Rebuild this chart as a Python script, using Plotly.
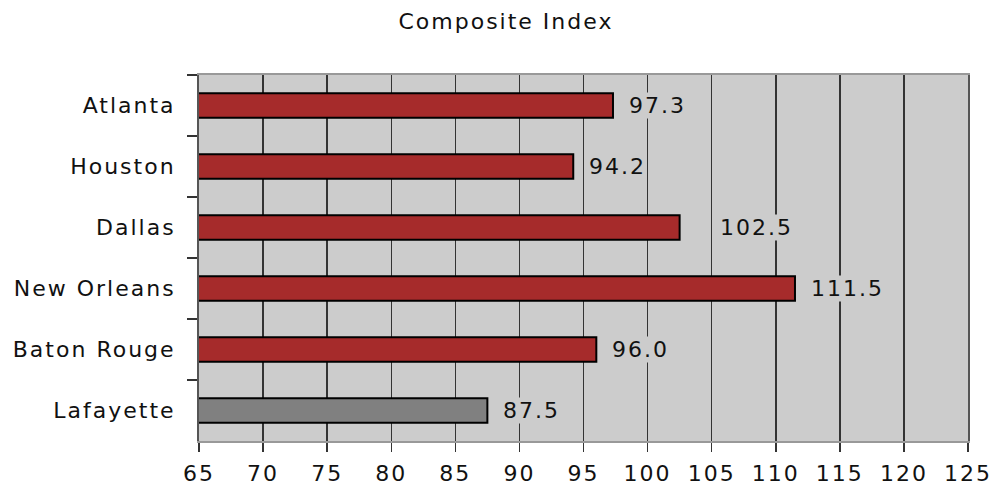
import plotly.graph_objects as go

cities = ["Atlanta", "Houston", "Dallas", "New Orleans", "Baton Rouge", "Lafayette"]
values = [97.3, 94.2, 102.5, 111.5, 96.0, 87.5]
x_ticks = list(range(65, 126, 5))

RED = "#A62B2B"
GRAY = "#808080"
colors = [GRAY if c == "Lafayette" else RED for c in cities]
FONT = "DejaVu Sans, sans-serif"
label_shift = {"Dallas": 39}

fig = go.Figure()
fig.add_trace(go.Bar(
    y=cities, x=values, orientation="h",
    marker=dict(color=colors, line=dict(color="#000000", width=2)),
    width=0.4, base=0, hoverinfo="skip",
))

for c, v in zip(cities, values):
    fig.add_annotation(x=v, y=c, text=f"{v:.1f}", showarrow=False,
                       xanchor="left", xshift=label_shift.get(c, 15),
                       font=dict(family=FONT, size=22, color="#111111"),
                       bgcolor="#cccccc", borderpad=0)

fig.update_layout(
    width=996, height=485,
    margin=dict(l=199, r=28, t=75, b=44, autoexpand=False),
    paper_bgcolor="white", plot_bgcolor="#cccccc",
    title=dict(text="Composite Index", x=0.508, xanchor="center", y=0.957, yanchor="middle",
               font=dict(family=FONT, size=22, color="#111111")),
    showlegend=False,
)
fig.update_xaxes(range=[65, 125], tickvals=x_ticks, ticktext=[str(t) for t in x_ticks],
                 showgrid=True, gridcolor="#333333", gridwidth=1.5,
                 ticks="outside", ticklen=9, tickcolor="#333333", tickwidth=1.5,
                 ticklabelstandoff=3,
                 showline=True, linecolor="#999999", linewidth=2, mirror=True,
                 tickfont=dict(family=FONT, size=22, color="#111111"),
                 zeroline=False, fixedrange=True)
fig.update_yaxes(categoryorder="array", categoryarray=cities, autorange="reversed",
                 tickson="boundaries", ticks="outside", ticklen=10, tickcolor="#333333", tickwidth=1.5,
                 ticklabelstandoff=17,
                 showline=True, linecolor="#555555", linewidth=2, mirror=True,
                 showgrid=False,
                 tickfont=dict(family=FONT, size=22, color="#111111"),
                 fixedrange=True)

fig.write_html("out.html", config={"displayModeBar": False, "staticPlot": True})

with open("out.html", "r", encoding="utf-8") as f:
    html = f.read()
html = html.replace(
    "<head>",
    "<head><style>html,body{margin:0;padding:0;overflow:hidden;} svg text{letter-spacing:2px;}</style>",
    1,
)
with open("out.html", "w", encoding="utf-8") as f:
    f.write(html)
